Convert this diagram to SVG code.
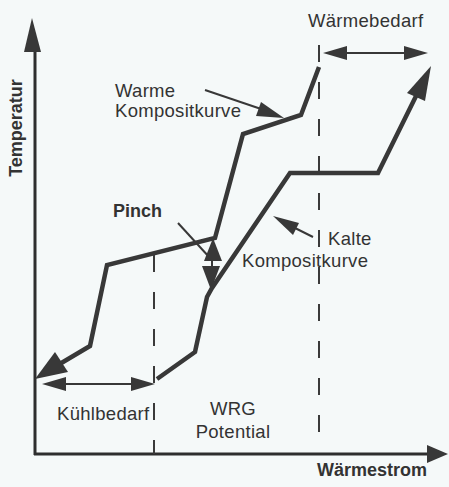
<svg xmlns="http://www.w3.org/2000/svg" width="449" height="487" viewBox="0 0 449 487">
  <style>
    .axis { stroke: #2e2e2e; stroke-width: 3; fill: none; }
    .curve { stroke: #383838; stroke-width: 4.5; fill: none; stroke-linejoin: miter; }
    .thin { stroke: #383838; stroke-width: 2; fill: none; }
    .dash { stroke: #3a3a3a; stroke-width: 2; fill: none; stroke-dasharray: 17 20; }
    .head { fill: #383838; stroke: none; }
    .lbl { font-family: "Liberation Sans", Arial, sans-serif; font-size: 18.5px; letter-spacing: 0.3px; fill: #333; }
    .bold { font-family: "Liberation Sans", Arial, sans-serif; font-size: 18px; font-weight: bold; fill: #333; }
  </style>
  <rect x="0" y="0" width="449" height="487" fill="#f5f9f9"/>

  <g id="axes">
    <line class="axis" x1="35" y1="455" x2="35" y2="45"/>
    <polygon class="head" points="32,18 24,52 41,52"/>
    <line class="axis" x1="34" y1="454" x2="430" y2="454"/>
    <polygon class="head" points="448,454 427,445 427,463"/>
    <text class="bold" transform="translate(22,128) rotate(-90)" text-anchor="middle">Temperatur</text>
    <text class="bold" x="317" y="476">Wärmestrom</text>
  </g>

  <g id="connectors">
    <line class="dash" x1="154" y1="255" x2="154" y2="454"/>
    <line class="dash" x1="319" y1="45" x2="319" y2="432"/>
    <line class="thin" x1="340" y1="53" x2="410" y2="53"/>
    <polygon class="head" points="323,53 347,46 347,60"/>
    <polygon class="head" points="428,53 404,46 404,60"/>
    <line class="thin" x1="58" y1="384" x2="138" y2="384"/>
    <polygon class="head" points="42,384 66,377 66,391"/>
    <polygon class="head" points="155,384 131,377 131,391"/>
    <line class="thin" x1="205" y1="90" x2="270" y2="112"/>
    <polygon class="head" points="284,118 261,102 256,116"/>
    <line class="thin" x1="313" y1="237" x2="285" y2="223"/>
    <polygon class="head" points="273,216 299,223 293,235"/>
    <line class="thin" x1="178" y1="223" x2="210" y2="258"/>
    <line class="thin" x1="212" y1="255" x2="212" y2="270"/>
    <polygon class="head" points="213,238 204,261 222,261"/>
    <polygon class="head" points="211,290 202,266 220,266"/>
  </g>

  <g id="warm-curve">
    <polyline class="curve" points="319,67 301,115 243,134 215,238 107,265 90,346 58,365"/>
    <polygon class="head" points="35,379 55,352 68,372"/>
  </g>

  <g id="cold-curve">
    <polyline class="curve" points="157,379 195,352 207,297 212,288 290,173 378,173 420,88"/>
    <polygon class="head" points="431,66 407,93 425,101"/>
  </g>

  <g id="labels">
    <text class="lbl" x="308" y="27">Wärmebedarf</text>
    <text class="lbl" x="115" y="97">Warme</text>
    <text class="lbl" x="115" y="117">Kompositkurve</text>
    <text class="bold" x="113" y="217">Pinch</text>
    <text class="lbl" x="328" y="245">Kalte</text>
    <text class="lbl" x="242" y="267">Kompositkurve</text>
    <text class="lbl" x="57" y="420">Kühlbedarf</text>
    <text class="lbl" x="233" y="415" text-anchor="middle">WRG</text>
    <text class="lbl" x="233" y="438" text-anchor="middle">Potential</text>
  </g>
</svg>
